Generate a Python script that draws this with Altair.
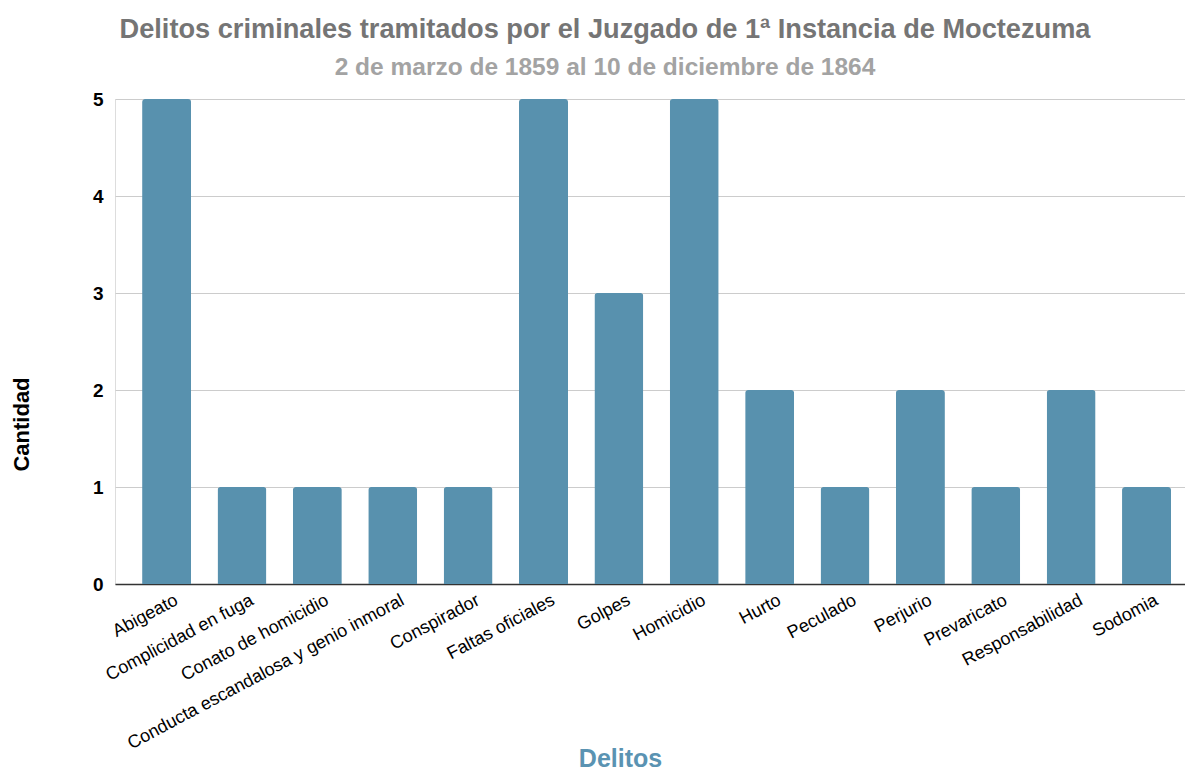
import altair as alt
import pandas as pd

delitos = ["Abigeato", "Complicidad en fuga", "Conato de homicidio",
           "Conducta escandalosa y genio inmoral", "Conspirador", "Faltas oficiales",
           "Golpes", "Homicidio", "Hurto", "Peculado", "Perjurio", "Prevaricato",
           "Responsabilidad", "Sodomia"]
cantidad = [5, 1, 1, 1, 1, 5, 3, 5, 2, 1, 2, 1, 2, 1]

df = pd.DataFrame({"Delitos": delitos, "Cantidad": cantidad})

chart = alt.Chart(df).mark_bar(
    color="#5891ae", cornerRadiusTopLeft=3, cornerRadiusTopRight=3
).encode(
    x=alt.X("Delitos:N", sort=delitos,
            scale=alt.Scale(paddingInner=0.35, paddingOuter=0.2725, align=0.66),
            axis=alt.Axis(title="Delitos", labelAngle=-28, labelFont="Liberation Sans",
                          labelFontSize=18, labelColor="#000000", labelPadding=7,
                          labelLimit=500, labelOffset=6,
                          ticks=False, domainColor="#333333", domainWidth=1.5,
                          titleFont="Liberation Sans", titleFontSize=25,
                          titleFontWeight="bold", titleColor="#5a93b2",
                          titleX=505, titleY=162, titleBaseline="top",
                          titleAnchor="start", titleAlign="center")),
    y=alt.Y("Cantidad:Q", scale=alt.Scale(domain=[0, 5], nice=False),
            axis=alt.Axis(title="Cantidad", values=[0, 1, 2, 3, 4, 5], format="d",
                          labelFont="Liberation Sans", labelFontSize=19,
                          labelFontWeight="bold", labelColor="#000000",
                          labelPadding=12, ticks=False, domain=False,
                          gridColor="#cccccc", gridWidth=1,
                          titleFont="Liberation Sans", titleFontSize=22,
                          titleFontWeight="bold", titleColor="#000000",
                          titleX=-82, titleY=325, titleAngle=-90,
                          titleAlign="center", titleBaseline="bottom")),
).properties(
    width=1070,
    height=485,
    title=alt.TitleParams(
        text="Delitos criminales tramitados por el Juzgado de 1ª Instancia de Moctezuma",
        subtitle="2 de marzo de 1859 al 10 de diciembre de 1864",
        font="Liberation Sans", fontSize=27.2, fontWeight="bold", color="#757575",
        subtitleFont="Liberation Sans", subtitleFontSize=24.5, subtitleFontWeight="bold",
        subtitleColor="#a3a3a3", subtitlePadding=11,
        anchor="middle", dx=-45, offset=10,
    ),
    autosize=alt.AutoSizeParams(type="none"),
    padding={"left": 115, "top": 99, "right": 0, "bottom": 187},
).configure_view(stroke=None).configure(background="white")

chart.save("out.html", embed_options={"renderer": "svg", "actions": False})
